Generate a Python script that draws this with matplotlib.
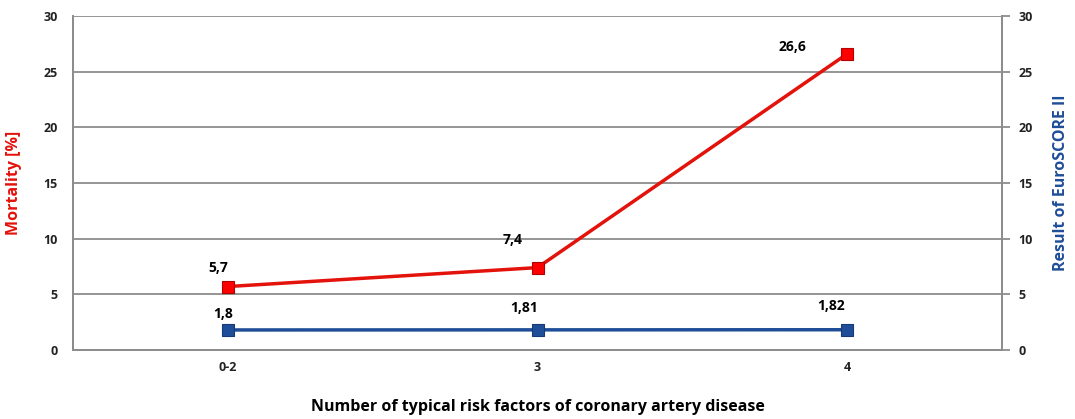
import matplotlib.pyplot as plt
import numpy as np

categories = ["0-2", "3", "4"]
mortality = [5.7, 7.4, 26.6]
euroscore = [1.8, 1.81, 1.82]
mortality_labels = ["5,7", "7,4", "26,6"]
euroscore_labels = ["1,8", "1,81", "1,82"]

plt.rcParams['font.family'] = ['Open Sans', 'DejaVu Sans']

red = '#e3120b'
blue = '#1f4e99'
grid_c = '#8c8c8c'

fig = plt.figure(figsize=(10.75, 4.19), dpi=100)
ax = fig.add_axes([73 / 1075, 1 - 350 / 419, 929 / 1075, 334 / 419])
ax2 = ax.twinx()

x = np.arange(len(categories))

ax.plot(x, mortality, color=red, lw=2.5, marker='s', ms=8,
        markerfacecolor='#ff0000', markeredgecolor='#b00000', markeredgewidth=0.8, zorder=3)
ax2.plot(x, euroscore, color=blue, lw=2.5, marker='s', ms=8,
         markerfacecolor='#1f4e99', markeredgecolor='#163a75', markeredgewidth=0.8, zorder=3)

# label offsets in pixels, as placed in the original chart
red_off = [(-10, 19), (-25, 28), (-55, 7)]
blue_off = [(-5, 16), (-13, 22), (-16, 24)]
for xi, v, s, o in zip(x, mortality, mortality_labels, red_off):
    ax.annotate(s, (xi, v), xytext=o, textcoords='offset pixels',
                ha='center', va='center', fontsize=10, fontweight='bold')
for xi, v, s, o in zip(x, euroscore, euroscore_labels, blue_off):
    ax2.annotate(s, (xi, v), xytext=o, textcoords='offset pixels',
                 ha='center', va='center', fontsize=10, fontweight='bold')

for a in (ax, ax2):
    a.set_xlim(-0.5, 2.5)
    a.set_ylim(0, 30)
    a.set_yticks(np.arange(0, 31, 5))
    for sp in a.spines.values():
        sp.set_color(grid_c)
        sp.set_linewidth(1.3)

ax.set_xticks(x)
ax.set_xticklabels(categories)
ax.tick_params(axis='x', length=0, pad=8, labelsize=9, labelcolor='#222222')
ax.tick_params(axis='y', length=0, pad=11, labelsize=9, labelcolor='#222222')
ax2.tick_params(axis='y', length=6, width=1.3, color=grid_c, pad=6, labelsize=9, labelcolor='#222222')
for t in ax.get_yticklabels() + ax2.get_yticklabels() + ax.get_xticklabels():
    t.set_fontweight('bold')

ax.yaxis.grid(True, color=grid_c, lw=1.3)
ax.set_axisbelow(True)
ax.spines['top'].set_visible(False)
ax2.spines['top'].set_visible(False)

ax.set_ylabel("Mortality [%]", color=red, fontsize=11.5, fontweight='bold')
ax.yaxis.set_label_coords((22 - 73) / 929, 0.5)
ax2.set_ylabel("Result of EuroSCORE II", color=blue, fontsize=11.5, fontweight='bold')
ax2.yaxis.set_label_coords((1053 - 73) / 929, 0.5)
ax.set_xlabel("Number of typical risk factors of coronary artery disease",
              fontsize=11.5, fontweight='bold', va='center')
ax.xaxis.set_label_coords(0.5, (350 - 407) / 334)

fig.savefig("out.png", dpi=100)
